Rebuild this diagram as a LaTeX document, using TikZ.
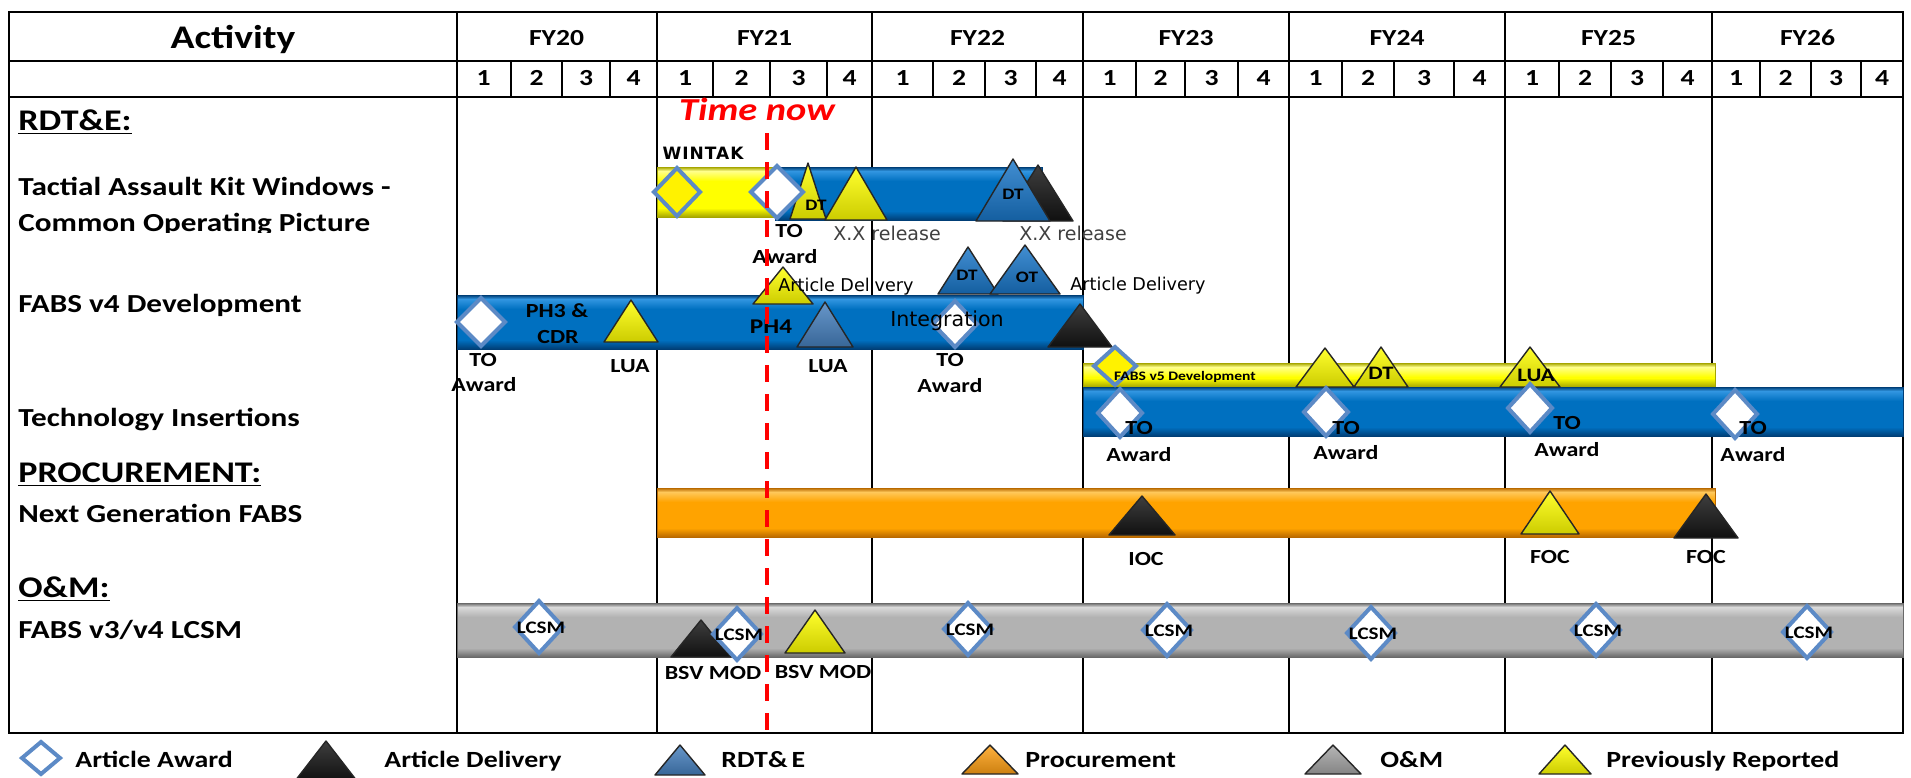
\documentclass[tikz,border=0pt]{standalone}
\usepackage{fontspec}
\setmainfont{Carlito}[FakeStretch=1.2]
\newfontfamily\widefont{DejaVu Sans}
\definecolor{bluM}{RGB}{0,112,192}
\definecolor{bluL}{RGB}{50,150,225}
\definecolor{bluD}{RGB}{0,62,118}
\definecolor{yelM}{RGB}{255,255,0}
\definecolor{yelL}{RGB}{255,255,140}
\definecolor{yelD}{RGB}{165,165,0}
\definecolor{orgM}{RGB}{255,163,0}
\definecolor{orgL}{RGB}{255,200,90}
\definecolor{orgD}{RGB}{185,105,0}
\definecolor{gryM}{RGB}{178,178,178}
\definecolor{gryL}{RGB}{218,218,218}
\definecolor{gryD}{RGB}{105,105,105}
\definecolor{dblue}{RGB}{92,138,198}
\definecolor{triblue}{RGB}{25,118,200}
\definecolor{steelblue}{RGB}{70,128,190}
\definecolor{triorange}{RGB}{255,160,20}
\definecolor{trigrey}{RGB}{165,165,165}
\definecolor{triblack}{RGB}{20,20,20}
\newcommand\ganttbar[5]{%
  \fill[#5M] (#1,#2) rectangle (#3,#4);
  \shade[top color=#5D, bottom color=#5L] (#1,#2) rectangle (#3,#2+4);
  \shade[top color=#5L, bottom color=#5M] (#1,#2+4) rectangle (#3,#2+14);
  \shade[top color=#5M, bottom color=#5D] (#1,#4-9) rectangle (#3,#4);
  \draw[#5D, line width=0.5pt] (#1,#2) rectangle (#3,#4);}
\newcommand\trimark[5]{%
  \shade[top color=#5!82!white, bottom color=#5!80!black] (#1,#2) -- (#1+#4,#3) -- (#1-#4,#3) -- cycle;
  \draw[trimk] (#1,#2) -- (#1+#4,#3) -- (#1-#4,#3) -- cycle;}
\newcommand\diamark[5]{%
  \filldraw[diamk, fill=#5] (#1-#3,#2) -- (#1,#2-#4) -- (#1+#3,#2) -- (#1,#2+#4) -- cycle;}
\begin{document}
\begin{tikzpicture}[x=0.5pt,y=-0.5pt,
  trimk/.style={draw=black!85, line width=0.7pt, line join=round},
  diamk/.style={draw=dblue, line width=2pt, line join=miter},
  frame/.style={line width=1.2pt},
  fyline/.style={line width=0.9pt},
  qline/.style={line width=0.7pt},
  hdr/.style={inner sep=0pt, font=\bfseries\fontsize{11.5}{13}\selectfont},
  lbl/.style={inner sep=0pt, font=\bfseries\fontsize{10}{12}\selectfont},
  small/.style={inner sep=0pt, font=\bfseries\fontsize{8}{9}\selectfont},
  lcsmlbl/.style={inner sep=0pt, font=\bfseries\fontsize{8.8}{10}\selectfont},
  tiny/.style={inner sep=0pt, font=\bfseries\fontsize{6.5}{7}\selectfont},
  artd/.style={inner sep=0pt, font=\widefont\fontsize{8.8}{10}\selectfont},
  xrel/.style={inner sep=0pt, text=black!75, font=\widefont\fontsize{9.5}{11}\selectfont},
  integ/.style={inner sep=0pt, font=\widefont\fontsize{10.3}{12}\selectfont},
  rowlbl/.style={anchor=base west, inner sep=0pt, font=\bfseries\fontsize{13}{15}\selectfont},
  sect/.style={anchor=base west, inner sep=0pt, font=\bfseries\fontsize{15}{18}\selectfont},
  legtxt/.style={anchor=base west, inner sep=0pt, font=\bfseries\fontsize{11.6}{14}\selectfont},
  nowline/.style={red, line width=2pt, dash pattern=on 8.5pt off 6pt}]
\useasboundingbox (0,0) rectangle (1911,777);
\fill[white] (0,0) rectangle (1911,777);
% ---------- grid ----------
\foreach \x in {657,872,1083,1289,1505,1712}{
  \draw[frame] (\x,12) -- (\x,97);
  \draw[fyline] (\x,97) -- (\x,733);}
\foreach \x in {511,562,610,713,770,827,933,985,1036,1136,1185,1238,1342,1394,1454,1559,1611,1663,1760,1811,1861}
  \draw[qline] (\x,61) -- (\x,97);
\draw[frame] (9,61) -- (1903,61);
\draw[frame] (9,97) -- (1903,97);
\draw[frame] (457,12) -- (457,733);
\draw[frame] (9,12) rectangle (1903,733);
% ---------- header text ----------
\node[inner sep=0pt, anchor=base, font=\bfseries\fontsize{16.5}{19}\selectfont] (act) at (233,48) {Activity};
\foreach \x/\t [count=\n] in {556.5/FY20,764.5/FY21,977.5/FY22,1186/FY23,1397/FY24,1608.5/FY25,1807.5/FY26}
  \node[hdr, anchor=base] (fy\n) at (\x,45) {\t};
\foreach \x/\q [count=\n] in {483.5/1,536.5/2,586/3,633.5/4,685/1,741.5/2,798.5/3,849.5/4,902.5/1,959/2,1010.5/3,1059.5/4,1109.5/1,1160.5/2,1211.5/3,1263.5/4,1315.5/1,1368/2,1424/3,1479.5/4,1532/1,1585/2,1637/3,1687.5/4,1736/1,1785.5/2,1836/3,1882/4}
  \node[hdr, anchor=base] (q\n) at (\x,85) {\q};
% ---------- row labels ----------
\node[sect] (s1) at (18,130) {\underline{RDT\&E:}};
\node[rowlbl] (r1) at (18,195) {Tactial Assault Kit Windows -};
\begin{scope}
  \clip (9,200) rectangle (457,232);
  \node[rowlbl] (r1b) at (18,231) {Common Operating Picture};
\end{scope}
\node[rowlbl] (r2) at (18,312) {FABS v4 Development};
\node[rowlbl] (r3) at (18,426) {Technology Insertions};
\node[sect] (s2) at (18,482) {\underline{PROCUREMENT:}};
\node[rowlbl] (r4) at (18,522) {Next Generation FABS};
\node[sect] (s3) at (18,597) {\underline{O\&M:}};
\node[rowlbl] (r5) at (18,638) {FABS v3/v4 LCSM};
% ---------- TAK row ----------
\ganttbar{657}{167}{775}{217}{yel}
\ganttbar{775}{167}{1042}{220}{blu}
\trimark{1038}{165}{221}{35}{triblack}
\trimark{1013}{159}{221}{37}{triblue}
\node[small] (tdt2) at (1013,194) {DT};
\trimark{808}{163}{219}{18}{yellow}
\node[small] (tdt1) at (816,205) {DT};
\trimark{856}{167}{220}{31}{yellow}
\diamark{677}{192}{23}{24}{yellow}
\diamark{777}{192}{26}{26}{white}
\node[inner sep=0pt, font=\widefont\bfseries\fontsize{8.5}{10}\selectfont\addfontfeatures{LetterSpace=6}] (wintak) at (703,153) {WINTAK};
\node[lbl] (tto) at (789,231) {TO};
\node[lbl] (taw) at (785,257) {Award};
\node[xrel] (xr1) at (887,233) {X.X release};
\node[xrel] (xr2) at (1073,233) {X.X release};
% ---------- FABS v4 row ----------
\ganttbar{457}{295}{1083}{349}{blu}
\diamark{481}{322}{24}{24}{white}
\node[lbl] (ph3) at (557,311) {PH3 \&};
\node[lbl] (cdr) at (558,337) {CDR};
\trimark{631}{300}{342}{27}{yellow}
\trimark{783}{267}{304}{30}{yellow}
\node[inner sep=0pt, font=\bfseries\fontsize{10.5}{12}\selectfont] (ph4) at (771,327) {PH4};
\trimark{825}{302}{347}{28}{steelblue}
\trimark{968}{247}{294}{30}{triblue}
\node[small] (fdt) at (967,275) {DT};
\trimark{1025}{245}{294}{35}{triblue}
\node[small] (fot) at (1027,277) {OT};
\diamark{955}{324}{22}{23}{white}
\node[integ] (integ) at (947,321) {Integration};
\trimark{1080}{304}{347}{32}{triblack}
\node[artd] (ad1) at (846,287) {Article Delivery};
\node[artd] (ad2) at (1138,286) {Article Delivery};
\node[lbl] (flua1) at (630,366) {LUA};
\node[lbl] (fto1) at (483,360) {TO};
\node[lbl] (faw1) at (484,385) {Award};
\node[lbl] (flua2) at (828,366) {LUA};
\node[lbl] (fto2) at (950,360) {TO};
\node[lbl] (faw2) at (950,386) {Award};
% ---------- FABS v5 / Technology Insertions ----------
\ganttbar{1083}{363}{1715}{387}{yel}
\ganttbar{1083}{387}{1903}{436}{blu}
\trimark{1325}{348}{387}{29}{yellow}
\trimark{1381}{347}{387}{27}{yellow}
\node[inner sep=0pt, font=\bfseries\fontsize{9.5}{11}\selectfont] (v5dt) at (1381,373) {DT};
\trimark{1530}{347}{387}{30}{yellow}
\node[inner sep=0pt, font=\bfseries\fontsize{9.5}{11}\selectfont] (v5lua) at (1536,375) {LUA};
\diamark{1115}{366}{21}{19}{yellow}
\node[tiny] (v5) at (1185,377) {FABS v5 Development};
\foreach \x/\y/\tx/\ty/\ay [count=\n] in {1120/413/1139/428/455,1326/412/1346/428/453,1530/408/1567/423/450,1735/414/1753/428/455}{
  \diamark{\x}{\y}{22}{24}{white}
  \node[lbl] (tito\n) at (\tx,\ty) {TO};
  \node[lbl] (tiaw\n) at (\tx,\ay) {Award};}
% ---------- Next Generation FABS ----------
\ganttbar{657}{488}{1715}{537}{org}
\trimark{1142}{496}{535}{33}{triblack}
\trimark{1550}{491}{534}{29}{yellow}
\trimark{1706}{494}{538}{32}{triblack}
\node[lbl] (ioc) at (1146,559) {IOC};
\node[lbl] (foc1) at (1550,557) {FOC};
\node[lbl] (foc2) at (1706,557) {FOC};
% ---------- LCSM ----------
\ganttbar{457}{603}{1903}{657}{gry}
\trimark{701}{620}{657}{30}{triblack}
\trimark{815}{610}{653}{30}{yellow}
\foreach \x/\y [count=\n] in {539/627,737/634,968/629,1167/630,1371/633,1596/630,1807/632}{
  \diamark{\x}{\y}{24}{26}{white}
  \node[lcsmlbl] (lcsm\n) at (\x+2,\y+1) {LCSM};}
\node[lbl] (bsv1) at (713,673) {BSV MOD};
\node[lbl] (bsv2) at (823,672) {BSV MOD};
% ---------- time now ----------
\node[inner sep=0pt, anchor=base, text=red, font=\bfseries\itshape\fontsize{16}{18}\selectfont] (tnow) at (757,120) {Time now};
\coordinate (tn1) at (767,133);
\coordinate (tn2) at (767,730);
\draw[nowline] (tn1) -- (tn2);
% ---------- legend ----------
\diamark{41}{758}{19}{16}{white}
\node[legtxt] (l1) at (75,767) {Article Award};
\trimark{326}{741}{781}{31}{triblack}
\node[legtxt] (l2) at (384,767) {Article Delivery};
\trimark{680}{745}{775}{25}{steelblue}
\node[legtxt] (l3) at (721,767) {RDT\&\hspace{2pt}E};
\trimark{990}{745}{774}{28}{triorange}
\node[legtxt] (l4) at (1025,767) {Procurement};
\trimark{1333}{745}{774}{28}{trigrey}
\node[legtxt] (l5) at (1380,767) {O\&M};
\trimark{1565}{745}{774}{26}{yellow}
\node[legtxt] (l6) at (1606,767) {Previously Reported};
\end{tikzpicture}
\end{document}
